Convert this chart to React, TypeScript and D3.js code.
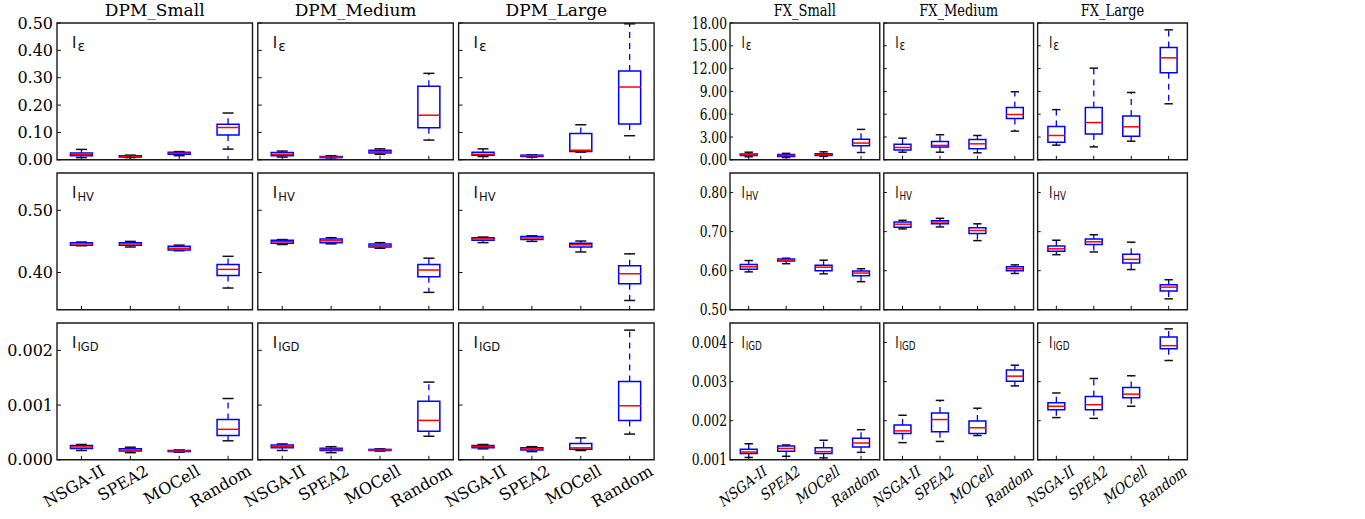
import React from "react";
import * as d3 from "d3";

const algorithms = ["NSGA-II", "SPEA2", "MOCell", "Random"];
const dpmTitles = ["DPM_Small", "DPM_Medium", "DPM_Large"];
const fxTitles = ["FX_Small", "FX_Medium", "FX_Large"];
const metricSubs = ["ε", "HV", "IGD"];
const metricSubSizes = [14, 11.5, 11.5];

// box stats per algorithm: [lowerWhisker, q1, median, q3, upperWhisker]
const dpmSmallEps = [[0.008, 0.015, 0.02, 0.025, 0.038], [0.008, 0.01, 0.012, 0.015, 0.017], [0.015, 0.02, 0.024, 0.028, 0.03], [0.039, 0.091, 0.118, 0.13, 0.171]];
const dpmMediumEps = [[0.01, 0.015, 0.02, 0.027, 0.032], [0.007, 0.008, 0.01, 0.012, 0.015], [0.02, 0.025, 0.03, 0.035, 0.04], [0.072, 0.117, 0.163, 0.269, 0.316]];
const dpmLargeEps = [[0.012, 0.017, 0.02, 0.028, 0.04], [0.01, 0.012, 0.015, 0.017, 0.018], [0.028, 0.03, 0.035, 0.096, 0.128], [0.088, 0.131, 0.266, 0.325, 0.497]];

const dpmSmallHv = [[0.443, 0.444, 0.446, 0.448, 0.449], [0.441, 0.444, 0.446, 0.448, 0.45], [0.435, 0.436, 0.439, 0.442, 0.444], [0.375, 0.395, 0.405, 0.413, 0.426]];
const dpmMediumHv = [[0.445, 0.447, 0.4495, 0.452, 0.453], [0.446, 0.448, 0.451, 0.454, 0.456], [0.439, 0.441, 0.443, 0.446, 0.448], [0.368, 0.393, 0.404, 0.413, 0.423]];
const dpmLargeHv = [[0.448, 0.452, 0.454, 0.456, 0.457], [0.45, 0.453, 0.4555, 0.458, 0.459], [0.433, 0.441, 0.4447, 0.447, 0.4506], [0.355, 0.382, 0.398, 0.411, 0.43]];

const dpmSmallIgd = [[0.00017, 0.000206, 0.000235, 0.000262, 0.00028], [0.00013, 0.00016, 0.00018, 0.0002, 0.00023], [0.00014, 0.00015, 0.00016, 0.00017, 0.00018], [0.000347, 0.000446, 0.000557, 0.000735, 0.00112]];
const dpmMediumIgd = [[0.00017, 0.00022, 0.00024, 0.00027, 0.00029], [0.00013, 0.00017, 0.00019, 0.00021, 0.00024], [0.00016, 0.00017, 0.00018, 0.00019, 0.0002], [0.00043, 0.00052, 0.00072, 0.00107, 0.00142]];
const dpmLargeIgd = [[0.0002, 0.00022, 0.000243, 0.00026, 0.00028], [0.00015, 0.00018, 0.0002, 0.00022, 0.00024], [0.00017, 0.000194, 0.000218, 0.0003, 0.0004], [0.00047, 0.000716, 0.000987, 0.00143, 0.00237]];

const fxSmallEps = [[0.4, 0.55, 0.66, 0.75, 1.0], [0.3, 0.45, 0.57, 0.7, 0.85], [0.45, 0.55, 0.7, 0.8, 1.05], [0.96, 1.84, 2.2, 2.72, 4.0]];
const fxMediumEps = [[1.0, 1.3, 1.62, 2.06, 2.85], [1.0, 1.67, 1.89, 2.4, 3.3], [0.92, 1.45, 2.1, 2.68, 3.2], [3.77, 5.43, 5.96, 6.88, 8.95]];
const fxLargeEps = [[1.93, 2.32, 3.2, 4.38, 6.6], [1.7, 3.38, 4.9, 6.88, 12.06], [2.45, 3.11, 4.34, 5.75, 8.86], [7.37, 11.45, 13.42, 14.78, 17.1]];

const fxSmallHv = [[0.597, 0.604, 0.61, 0.616, 0.626], [0.618, 0.625, 0.627, 0.63, 0.632], [0.592, 0.6, 0.609, 0.614, 0.627], [0.572, 0.587, 0.594, 0.599, 0.605]];
const fxMediumHv = [[0.707, 0.711, 0.719, 0.7247, 0.729], [0.712, 0.72, 0.7247, 0.728, 0.734], [0.677, 0.695, 0.703, 0.71, 0.72], [0.593, 0.6, 0.605, 0.61, 0.615]];
const fxLargeHv = [[0.641, 0.65, 0.656, 0.663, 0.678], [0.648, 0.667, 0.674, 0.681, 0.692], [0.603, 0.62, 0.629, 0.642, 0.673], [0.528, 0.548, 0.558, 0.564, 0.577]];

const fxSmallIgd = [[0.00106, 0.00116, 0.0012, 0.00127, 0.00141], [0.00109, 0.00122, 0.00129, 0.00135, 0.00138], [0.00105, 0.00116, 0.00121, 0.00131, 0.0015], [0.00119, 0.00133, 0.00143, 0.00155, 0.00177]];
const fxMediumIgd = [[0.00144, 0.00167, 0.00174, 0.00189, 0.00214], [0.00147, 0.00172, 0.00203, 0.0022, 0.00252], [0.00162, 0.00167, 0.00182, 0.00199, 0.00232], [0.00289, 0.00301, 0.00314, 0.0033, 0.00342]];
const fxLargeIgd = [[0.00208, 0.00228, 0.00237, 0.00246, 0.00271], [0.00206, 0.00228, 0.00241, 0.00262, 0.00308], [0.00237, 0.00259, 0.00268, 0.00285, 0.00315], [0.00354, 0.00384, 0.00392, 0.00414, 0.00435]];

const dpmEpsTicks = [0, 0.1, 0.2, 0.3, 0.4, 0.5];
const dpmHvTicks = [0.4, 0.5];
const dpmIgdTicks = [0, 0.001, 0.002];
const fxEpsTicks = [0, 3, 6, 9, 12, 15, 18];
const fxHvTicks = [0.5, 0.6, 0.7, 0.8];
const fxIgdTicks = [0.001, 0.002, 0.003, 0.004];

const dpmDomains = [[0, 0.5], [0.34, 0.56], [0, 0.0025]];
const fxDomains = [[0, 18], [0.5, 0.85], [0.001, 0.0045]];

const PANEL_W = 195.5;
const PANEL_STEP = 200.8;
const ROW_TOPS = [23, 173, 323];
const ROW_H = 136.8;
const SERIF = "DejaVu Serif";
const SANS = "DejaVu Sans";

type Row = { panels: number[][][]; domain: number[]; ticks: number[]; fmt: string };

let measureCtx: CanvasRenderingContext2D | null = null;
function textWidth(s: string): number {
  if (!measureCtx) {
    const c = document.createElement("canvas");
    measureCtx = c.getContext("2d");
  }
  if (!measureCtx) return s.length * 9;
  measureCtx.font = `16px "${SERIF}"`;
  return measureCtx.measureText(s).width;
}

function Panel({ px, top, row, data, rowIdx, colIdx, title }: any) {
  const x = d3.scalePoint<string>().domain(algorithms).range([px, px + PANEL_W]).padding(0.5);
  const y = d3.scaleLinear().domain(row.domain).range([top + ROW_H, top]);
  const bw = 0.45 * x.step();
  const cw = bw / 2;
  const fmt = d3.format(row.fmt);
  const bottom = top + ROW_H;
  const nse = { vectorEffect: "non-scaling-stroke" } as any;
  return (
    <g>
      {algorithms.map((a, i) => {
        const [lo, q1, med, q3, hi] = data[i];
        const cx = x(a) as number;
        return (
          <g key={a}>
            <line x1={cx} x2={cx} y1={y(q3)} y2={y(hi)} stroke="#0000ff" strokeWidth={1.3} strokeDasharray="6,5" style={nse} />
            <line x1={cx} x2={cx} y1={y(q1)} y2={y(lo)} stroke="#0000ff" strokeWidth={1.3} strokeDasharray="6,5" style={nse} />
            <line x1={cx - cw / 2} x2={cx + cw / 2} y1={y(hi)} y2={y(hi)} stroke="#111" strokeWidth={1.5} style={nse} />
            <line x1={cx - cw / 2} x2={cx + cw / 2} y1={y(lo)} y2={y(lo)} stroke="#111" strokeWidth={1.5} style={nse} />
            <rect x={cx - bw / 2} y={y(q3)} width={bw} height={Math.max(0.5, y(q1) - y(q3))} fill="none" stroke="#0000ff" strokeWidth={1.5} style={nse} />
            <line x1={cx - bw / 2} x2={cx + bw / 2} y1={y(med)} y2={y(med)} stroke="#ff0000" strokeWidth={1.5} style={nse} />
          </g>
        );
      })}
      <rect x={px} y={top} width={PANEL_W} height={ROW_H} fill="none" stroke="#1a1a1a" strokeWidth={1.4} style={nse} />
      {row.ticks.map((t: number) => (
        <g key={t}>
          <line x1={px} x2={px + 4} y1={y(t)} y2={y(t)} stroke="#111" strokeWidth={1} style={nse} />
          {colIdx === 0 && (
            <text x={px - 4} y={y(t)} dy="0.35em" textAnchor="end" fontFamily={SERIF} fontSize={16} fill="#000">
              {fmt(t)}
            </text>
          )}
        </g>
      ))}
      {algorithms.map((a) => (
        <line key={a} x1={x(a)} x2={x(a)} y1={bottom} y2={bottom - 4} stroke="#111" strokeWidth={1} style={nse} />
      ))}
      <text x={px + 15} y={top + 25} fontFamily={SANS} fontSize={15} fill="#111">
        I
        <tspan fontSize={metricSubSizes[rowIdx]} dy={2.5} dx={1}>
          {metricSubs[rowIdx]}
        </tspan>
      </text>
      {rowIdx === 0 && (
        <text x={px + PANEL_W / 2} y={16} textAnchor="middle" fontFamily={SERIF} fontSize={17} fill="#000">
          {title}
        </text>
      )}
      {rowIdx === 2 &&
        algorithms.map((a) => {
          const L = textWidth(a);
          const vExt = L * 0.5 + 12 * 0.866 + 2;
          const cx = (x(a) as number) - 7.5;
          const cy = 463 + vExt / 2;
          return (
            <text key={a} x={cx} y={cy} dy="0.35em" textAnchor="middle" fontFamily={SERIF} fontSize={16} fill="#000" transform={`rotate(-30 ${cx} ${cy})`}>
              {a}
            </text>
          );
        })}
    </g>
  );
}

function Figure({ x0, sx, titles, rows }: { x0: number; sx: number; titles: string[]; rows: Row[] }) {
  return (
    <g transform={`translate(${x0},0) scale(${sx},1)`}>
      {rows.map((row, ri) =>
        row.panels.map((data, ci) => (
          <Panel key={`${ri}-${ci}`} px={ci * PANEL_STEP} top={ROW_TOPS[ri]} row={row} data={data} rowIdx={ri} colIdx={ci} title={titles[ci]} />
        ))
      )}
    </g>
  );
}

export default function App() {
  const dpmRows: Row[] = [
    { panels: [dpmSmallEps, dpmMediumEps, dpmLargeEps], domain: dpmDomains[0], ticks: dpmEpsTicks, fmt: ".2f" },
    { panels: [dpmSmallHv, dpmMediumHv, dpmLargeHv], domain: dpmDomains[1], ticks: dpmHvTicks, fmt: ".2f" },
    { panels: [dpmSmallIgd, dpmMediumIgd, dpmLargeIgd], domain: dpmDomains[2], ticks: dpmIgdTicks, fmt: ".3f" },
  ];
  const fxRows: Row[] = [
    { panels: [fxSmallEps, fxMediumEps, fxLargeEps], domain: fxDomains[0], ticks: fxEpsTicks, fmt: ".2f" },
    { panels: [fxSmallHv, fxMediumHv, fxLargeHv], domain: fxDomains[1], ticks: fxHvTicks, fmt: ".2f" },
    { panels: [fxSmallIgd, fxMediumIgd, fxLargeIgd], domain: fxDomains[2], ticks: fxIgdTicks, fmt: ".3f" },
  ];
  return (
    <svg width={1365} height={519} style={{ position: "absolute", left: 0, top: 0, background: "#fff" }}>
      <Figure x0={57} sx={1} titles={dpmTitles} rows={dpmRows} />
      <Figure x0={730} sx={0.766} titles={fxTitles} rows={fxRows} />
    </svg>
  );
}
